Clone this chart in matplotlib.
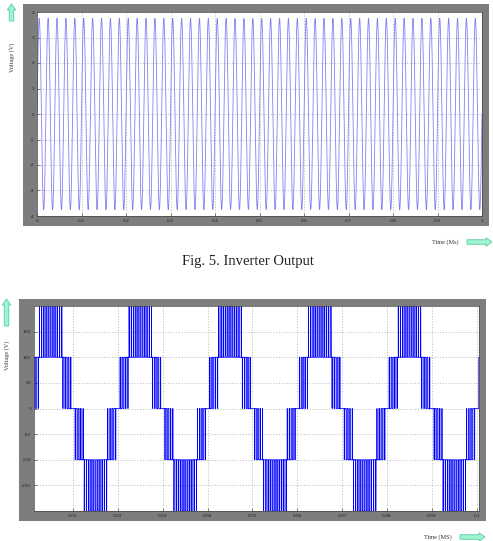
import numpy as np
import matplotlib
matplotlib.use("Agg")
import matplotlib.pyplot as plt
from matplotlib.patches import Rectangle, FancyArrow

# ---------------- data ----------------
# Top chart: inverter output, sinusoidal, 50 cycles in 1 s
top_xticks = [0, 0.1, 0.2, 0.3, 0.4, 0.5, 0.6, 0.7, 0.8, 0.9, 1]
top_xticklabels = ["0", "0.1", "0.2", "0.3", "0.4", "0.5", "0.6", "0.7", "0.8", "0.9", "1"]
top_yticks = [-4, -3, -2, -1, 0, 1, 2, 3, 4]
top_yticklabels = ["-4", "-3", "-2", "-1", "0", "1", "2", "3", "4"]
top_freq_hz = 50
top_amplitude = 3.75
top_t_end = 1.0

# Bottom chart: 5-level PWM output
bot_xticks = [0.01, 0.02, 0.03, 0.04, 0.05, 0.06, 0.07, 0.08, 0.09, 0.1]
bot_xticklabels = ["0.01", "0.02", "0.03", "0.04", "0.05", "0.06", "0.07", "0.08", "0.09", "0.1"]
bot_yticks = [-150, -100, -50, 0, 50, 100, 150]
bot_yticklabels = ["-150", "-100", "-50", "0", "50", "100", "150"]
bot_levels = [-200, -100, 0, 100, 200]
bot_level_step = 100
bot_ref_peak = 1.42          # reference peak, in level steps
bot_fund_hz = 50
bot_carrier_hz = 2000
bot_xlim = (0.0013, 0.1005)

# ---------------- figure ----------------
W, H = 493, 541
fig = plt.figure(figsize=(W / 100, H / 100), dpi=100)
fig.patch.set_facecolor("white")


def frect(x0, y0, x1, y1):
    return [x0 / W, 1 - y1 / H, (x1 - x0) / W, (y1 - y0) / H]


def add_gray(x0, y0, x1, y1):
    r = Rectangle((x0 / W, 1 - y1 / H), (x1 - x0) / W, (y1 - y0) / H,
                  transform=fig.transFigure, facecolor="#7d7d7d",
                  edgecolor="none", zorder=-5)
    fig.add_artist(r)


def add_arrow(x, y, dx, dy):
    # pixel coords from top-left
    a = FancyArrow(x / 100, (H - y) / 100, dx / 100, -dy / 100,
                   width=0.045, head_width=0.085, head_length=0.06,
                   length_includes_head=True, transform=fig.dpi_scale_trans,
                   facecolor="#9df5d2", edgecolor="#5cc9a0", linewidth=0.6,
                   zorder=5)
    fig.add_artist(a)


add_gray(23, 4, 489, 226)
add_gray(19, 299, 486, 521)

tick_fs = 3.2
grid_kw = dict(color="#a0a0a0", linestyle=(0, (1.5, 2.5)), linewidth=0.5)

# ---- top chart ----
ax1 = fig.add_axes(frect(37, 12, 482, 216))
t1 = np.linspace(0, top_t_end, 2400)
v1 = top_amplitude * np.sin(2 * np.pi * top_freq_hz * t1)
ax1.plot(t1, v1, color="#6b6bf0", linewidth=0.6, alpha=0.85)
ax1.set_xlim(0, 1)
ax1.set_ylim(-4, 4)
ax1.set_xticks(top_xticks)
ax1.set_xticklabels(top_xticklabels)
ax1.set_yticks(top_yticks)
ax1.set_yticklabels(top_yticklabels)

# ---- bottom chart ----
ax2 = fig.add_axes(frect(34, 306, 479, 511))
t2 = np.linspace(0, bot_xlim[1], 120000)
ref = bot_ref_peak * np.sin(2 * np.pi * bot_fund_hz * t2)
phase = (t2 * bot_carrier_hz) % 1.0
tri = 1 - 2 * np.abs(phase - 0.5)   # 0..1 triangular carrier
out = np.zeros_like(t2)
for k in range(2):
    out += (ref > k + tri).astype(float)
    out -= (ref < -(k + tri)).astype(float)
v2 = out * bot_level_step
ax2.plot(t2, v2, color="#0000ff", linewidth=0.55, drawstyle="steps-post")
ax2.set_xlim(*bot_xlim)
ax2.set_ylim(-200, 200)
ax2.set_xticks(bot_xticks)
ax2.set_xticklabels(bot_xticklabels)
ax2.set_yticks(bot_yticks)
ax2.set_yticklabels(bot_yticklabels)

for ax in (ax1, ax2):
    ax.set_zorder(2)
    ax.set_facecolor("white")
    ax.grid(True, **grid_kw)
    ax.tick_params(direction="in", length=2.5, width=0.5, color="#555555",
                   labelsize=tick_fs, labelcolor="#222222", pad=2)
    for s in ax.spines.values():
        s.set_linewidth(0.5)
        s.set_color("#444444")

serif = ["Liberation Serif", "DejaVu Serif"]

# axis labels + arrows
fig.text(12 / W, 1 - 57 / H, "Voltage (V)", rotation=90, ha="center", va="center",
         fontsize=4.5, family=serif, color="#333333")
add_arrow(11.5, 21, 0, -17)
fig.text(445 / W, 1 - 242 / H, "Time (Ms)", ha="center", va="center",
         fontsize=4.5, family=serif, color="#333333")
add_arrow(467, 242, 25, 0)

fig.text(248 / W, 1 - 261 / H, "Fig. 5. Inverter Output", ha="center", va="center",
         fontsize=10.5, family=serif, color="#222222")

fig.text(7 / W, 1 - 355 / H, "Voltage (V)", rotation=90, ha="center", va="center",
         fontsize=4.5, family=serif, color="#333333")
add_arrow(6.5, 326, 0, -27)
fig.text(438 / W, 1 - 537 / H, "Time (MS)", ha="center", va="center",
         fontsize=4.5, family=serif, color="#333333")
add_arrow(460, 537, 25, 0)

fig.savefig("out.png", dpi=100, facecolor="white")
